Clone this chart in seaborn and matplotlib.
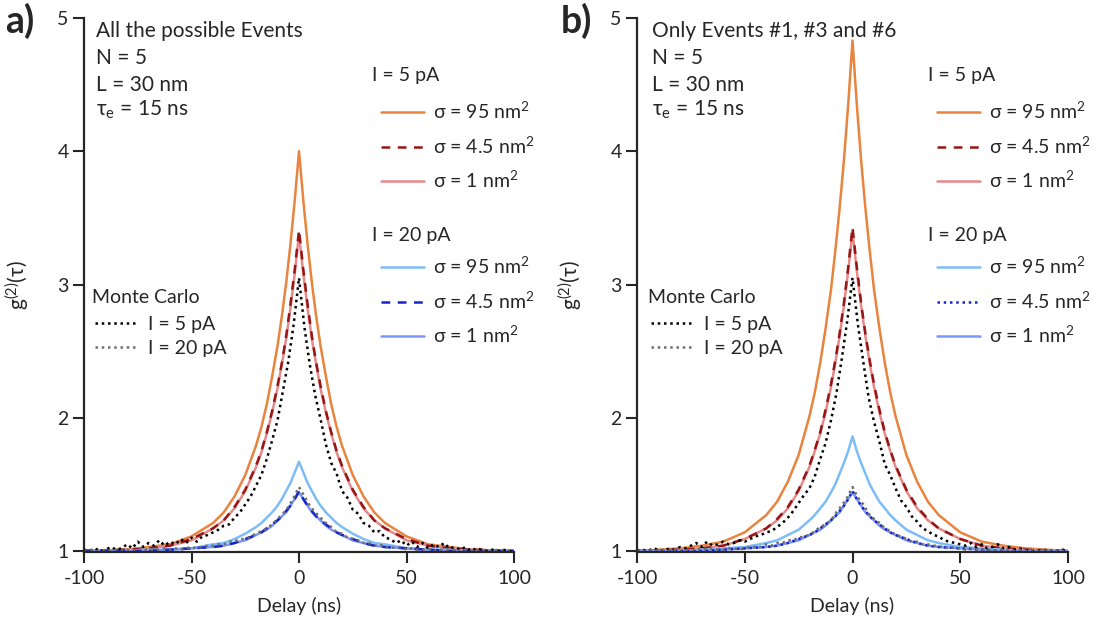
import numpy as np
import seaborn as sns
import matplotlib.pyplot as plt
from matplotlib.lines import Line2D
from matplotlib.legend import Legend

# delays (ns) of the model curves, one half; the curves are symmetric in tau
tau_half = [0, 2, 4, 6, 8, 10, 12.5, 15, 17.5, 20, 25, 30, 35, 40, 50, 60, 70, 80, 100]

# panel a) all the possible events
a_5pA_95 = [4.00, 3.63, 3.30, 3.01, 2.76, 2.54, 2.31, 2.10, 1.93, 1.79, 1.57, 1.41, 1.29, 1.21, 1.11, 1.05, 1.03, 1.01, 1.00]
a_5pA_45 = [3.41, 3.11, 2.85, 2.61, 2.41, 2.24, 2.05, 1.89, 1.75, 1.64, 1.46, 1.33, 1.23, 1.17, 1.09, 1.04, 1.02, 1.01, 1.00]
a_5pA_1 = [3.38, 3.08, 2.82, 2.59, 2.40, 2.22, 2.04, 1.88, 1.74, 1.63, 1.45, 1.32, 1.23, 1.17, 1.08, 1.04, 1.02, 1.01, 1.00]
a_20pA_95 = [1.67, 1.59, 1.51, 1.45, 1.39, 1.34, 1.29, 1.25, 1.21, 1.18, 1.13, 1.09, 1.06, 1.05, 1.02, 1.01, 1.01, 1.00, 1.00]
a_20pA_45 = [1.45, 1.39, 1.34, 1.30, 1.26, 1.23, 1.20, 1.17, 1.14, 1.12, 1.09, 1.06, 1.04, 1.03, 1.02, 1.01, 1.00, 1.00, 1.00]
a_20pA_1 = [1.44, 1.39, 1.34, 1.29, 1.26, 1.23, 1.19, 1.16, 1.14, 1.12, 1.08, 1.06, 1.04, 1.03, 1.02, 1.01, 1.00, 1.00, 1.00]

# panel b) only events #1, #3 and #6
b_5pA_95 = [4.83, 4.35, 3.93, 3.57, 3.25, 2.96, 2.67, 2.41, 2.19, 2.01, 1.72, 1.52, 1.37, 1.27, 1.14, 1.07, 1.04, 1.02, 1.00]
b_5pA_45 = [3.43, 3.13, 2.86, 2.63, 2.43, 2.25, 2.06, 1.89, 1.76, 1.64, 1.46, 1.33, 1.24, 1.17, 1.09, 1.04, 1.02, 1.01, 1.00]
b_5pA_1 = [3.40, 3.10, 2.84, 2.61, 2.41, 2.23, 2.04, 1.88, 1.75, 1.63, 1.45, 1.32, 1.23, 1.17, 1.09, 1.04, 1.02, 1.01, 1.00]
b_20pA_95 = [1.86, 1.75, 1.66, 1.58, 1.50, 1.44, 1.37, 1.32, 1.27, 1.23, 1.16, 1.12, 1.08, 1.06, 1.03, 1.02, 1.01, 1.00, 1.00]
b_20pA_45 = [1.45, 1.39, 1.34, 1.30, 1.26, 1.23, 1.20, 1.17, 1.14, 1.12, 1.09, 1.06, 1.04, 1.03, 1.02, 1.01, 1.00, 1.00, 1.00]
b_20pA_1 = [1.44, 1.39, 1.34, 1.29, 1.26, 1.23, 1.19, 1.16, 1.14, 1.12, 1.08, 1.06, 1.04, 1.03, 1.02, 1.01, 1.00, 1.00, 1.00]

# Monte Carlo traces, -100 ns .. 100 ns every 2.5 ns
tau_mc = np.linspace(-100, 100, 81)
a_mc_5pA = [1.01, 1.00, 1.02, 1.00, 1.01, 1.03, 1.01, 1.02, 1.05, 1.02,
            1.07, 1.03, 1.06, 1.04, 1.08, 1.04, 1.07, 1.05, 1.09, 1.06,
            1.10, 1.07, 1.11, 1.12, 1.14, 1.16, 1.19, 1.20, 1.25, 1.29,
            1.35, 1.41, 1.49, 1.57, 1.69, 1.83, 1.98, 2.20, 2.42, 2.70,
            3.05,
            2.68, 2.40, 2.17, 1.99, 1.80, 1.66, 1.58, 1.45, 1.40, 1.31,
            1.28, 1.21, 1.19, 1.14, 1.15, 1.10, 1.09, 1.06, 1.08, 1.04,
            1.07, 1.03, 1.06, 1.02, 1.05, 1.03, 1.06, 1.02, 1.03, 1.01,
            1.03, 1.00, 1.02, 1.01, 1.00, 1.01, 1.00, 1.01, 1.00, 1.00]
a_mc_20pA = [1.00, 1.01, 1.00, 1.00, 1.01, 1.00, 1.01, 1.00, 1.01, 1.00,
             1.01, 1.02, 1.00, 1.01, 1.01, 1.02, 1.01, 1.02, 1.01, 1.02,
             1.03, 1.02, 1.03, 1.04, 1.04, 1.05, 1.05, 1.07, 1.07, 1.09,
             1.09, 1.11, 1.13, 1.15, 1.17, 1.20, 1.24, 1.28, 1.33, 1.40,
             1.48,
             1.41, 1.34, 1.29, 1.25, 1.21, 1.18, 1.14, 1.13, 1.10, 1.09,
             1.08, 1.06, 1.06, 1.04, 1.05, 1.03, 1.03, 1.02, 1.03, 1.01,
             1.02, 1.01, 1.01, 1.02, 1.00, 1.01, 1.01, 1.00, 1.01, 1.00,
             1.01, 1.00, 1.00, 1.01, 1.00, 1.00, 1.01, 1.00, 1.00, 1.00]
b_mc_5pA = [1.00, 1.01, 1.00, 1.02, 1.01, 1.00, 1.02, 1.01, 1.03, 1.02,
            1.04, 1.06, 1.03, 1.07, 1.04, 1.05, 1.07, 1.05, 1.06, 1.08,
            1.07, 1.09, 1.11, 1.12, 1.14, 1.15, 1.18, 1.21, 1.25, 1.30,
            1.36, 1.42, 1.47, 1.56, 1.69, 1.81, 1.98, 2.18, 2.44, 2.72,
            3.05,
            2.70, 2.42, 2.15, 1.97, 1.82, 1.65, 1.57, 1.47, 1.38, 1.33,
            1.26, 1.22, 1.17, 1.15, 1.12, 1.11, 1.08, 1.07, 1.06, 1.05,
            1.04, 1.06, 1.03, 1.05, 1.02, 1.03, 1.05, 1.02, 1.03, 1.01,
            1.02, 1.01, 1.00, 1.01, 1.00, 1.01, 1.00, 1.00, 1.01, 1.00]
b_mc_20pA = [1.01, 1.00, 1.00, 1.01, 1.00, 1.01, 1.00, 1.01, 1.00, 1.01,
             1.00, 1.01, 1.02, 1.01, 1.02, 1.01, 1.01, 1.02, 1.02, 1.01,
             1.02, 1.03, 1.03, 1.03, 1.05, 1.04, 1.06, 1.06, 1.08, 1.08,
             1.10, 1.11, 1.12, 1.15, 1.18, 1.20, 1.23, 1.29, 1.34, 1.40,
             1.48,
             1.40, 1.35, 1.28, 1.24, 1.21, 1.17, 1.15, 1.12, 1.11, 1.09,
             1.07, 1.07, 1.05, 1.05, 1.04, 1.04, 1.02, 1.03, 1.02, 1.02,
             1.01, 1.02, 1.01, 1.01, 1.01, 1.00, 1.01, 1.01, 1.00, 1.00,
             1.01, 1.00, 1.01, 1.00, 1.00, 1.01, 1.00, 1.00, 1.00, 1.00]

sigma_labels = ['σ = 95 nm$^{2}$', 'σ = 4.5 nm$^{2}$', 'σ = 1 nm$^{2}$']
mc_labels = ['I = 5 pA', 'I = 20 pA']
x_ticks = [-100, -50, 0, 50, 100]
x_ticklabels = ['-100', '-50', '0', '50', '100']
y_ticks = [1, 2, 3, 4, 5]

ORANGE = '#E9843F'
DARKRED = '#991515'
PINK = '#E58A8A'
LIGHTBLUE = '#7DBDF7'
BLUE = '#1524CC'
PALEBLUE = '#7F98F7'
GREY = '#6E6E6E'
DASH = (0, (3.5, 3))
DOT = (0, (1, 1.5))
LW = 1.8
FS = 14

sns.set_style('ticks')
plt.rcParams['font.family'] = ['Lato', 'DejaVu Sans']
plt.rcParams['mathtext.default'] = 'regular'


def mirror(half):
    # the curves are even in tau: build -100..100 from the 0..100 half
    half = list(half)
    return half[:0:-1] + half


tau_line = [-t for t in tau_half[:0:-1]] + tau_half


def px(x, y):
    # pixel position in the 1104x619 image -> figure fraction
    return x / 1104, 1 - y / 619


def add_legend(ax, handles, labels, xy, **kw):
    leg = Legend(ax, handles, labels, loc='upper left', bbox_to_anchor=px(*xy),
                 bbox_transform=fig.transFigure, frameon=False, fontsize=FS,
                 borderpad=0, borderaxespad=0, **kw)
    ax.add_artist(leg)


def draw_panel(ax, curves, mc5, mc20, letter, header, dx):
    # model curves: (values, colour, linestyle), drawn 95, 1, 4.5 nm2
    for i in [0, 2, 1, 3, 5, 4]:
        vals, col, ls = curves[i]
        sns.lineplot(x=tau_line, y=mirror(vals), ax=ax, color=col, linestyle=ls,
                     linewidth=LW, sort=False, legend=False)
    sns.lineplot(x=tau_mc, y=mc5, ax=ax, color='black', linestyle=DOT,
                 linewidth=LW, sort=False, legend=False)
    sns.lineplot(x=tau_mc, y=mc20, ax=ax, color=GREY, linestyle=DOT,
                 linewidth=LW, sort=False, legend=False)

    ax.set_xlim(-100, 100)
    ax.set_ylim(0.99, 5)
    ax.set_xticks(x_ticks)
    ax.set_xticklabels(x_ticklabels)
    ax.set_yticks(y_ticks)
    ax.tick_params(labelsize=FS, length=8, width=1.5)
    ax.tick_params(axis='x', pad=5)
    ax.tick_params(axis='y', pad=3)
    for s in ['left', 'bottom']:
        ax.spines[s].set_linewidth(1.6)
    sns.despine(ax=ax)
    ax.set_xlabel('Delay (ns)', fontsize=FS)
    ax.xaxis.set_label_coords(0.5, -0.083)
    ax.set_ylabel('g$^{(2)}$(τ)', fontsize=15)
    ax.yaxis.set_label_coords(-0.124, 0.5)

    fig.text(*px(5 + dx, 21), letter, fontsize=27, fontweight='bold',
             ha='left', va='center')
    for line, y in zip([header, 'N = 5', 'L = 30 nm', 'τ$_{e}$ = 15 ns'], [31, 58, 85, 110]):
        fig.text(*px(96 + dx, y), line, fontsize=15, ha='left', va='center')

    # legend blocks: I = 5 pA, I = 20 pA and Monte Carlo
    fig.text(*px(372 + dx, 76), 'I = 5 pA', fontsize=FS, ha='left', va='center')
    fig.text(*px(372 + dx, 235), 'I = 20 pA', fontsize=FS, ha='left', va='center')
    fig.text(*px(92 + dx, 298), 'Monte Carlo', fontsize=FS, ha='left', va='center')
    for grp, ytop in [(curves[:3], 101), (curves[3:], 256)]:
        handles = [Line2D([], [], color=c, linestyle=ls, linewidth=LW) for _, c, ls in grp]
        add_legend(ax, handles, sigma_labels, (381 + dx, ytop),
                   handlelength=2.2, handletextpad=0.45, labelspacing=0.68)
    mc_handles = [Line2D([], [], color='black', linestyle=DOT, linewidth=LW),
                  Line2D([], [], color=GREY, linestyle=DOT, linewidth=LW)]
    add_legend(ax, mc_handles, mc_labels, (95 + dx, 316),
               handlelength=2.1, handletextpad=0.6, labelspacing=0.36)


fig = plt.figure(figsize=(11.04, 6.19), dpi=100)
ax_a = fig.add_axes([0.0761, 0.1077, 0.3895, 0.8632])
ax_b = fig.add_axes([0.5770, 0.1077, 0.3904, 0.8632])

# order in each list: 95, 4.5, 1 nm2 for 5 pA, then the same for 20 pA
curves_a = [(a_5pA_95, ORANGE, '-'), (a_5pA_45, DARKRED, DASH), (a_5pA_1, PINK, '-'),
            (a_20pA_95, LIGHTBLUE, '-'), (a_20pA_45, BLUE, DASH), (a_20pA_1, PALEBLUE, '-')]
curves_b = [(b_5pA_95, ORANGE, '-'), (b_5pA_45, DARKRED, DASH), (b_5pA_1, PINK, '-'),
            (b_20pA_95, LIGHTBLUE, '-'), (b_20pA_45, BLUE, DOT), (b_20pA_1, PALEBLUE, '-')]

draw_panel(ax_a, curves_a, a_mc_5pA, a_mc_20pA, 'a)', 'All the possible Events', 0)
draw_panel(ax_b, curves_b, b_mc_5pA, b_mc_20pA, 'b)', 'Only Events #1, #3 and #6', 556)

fig.savefig('out.png', dpi=100)
